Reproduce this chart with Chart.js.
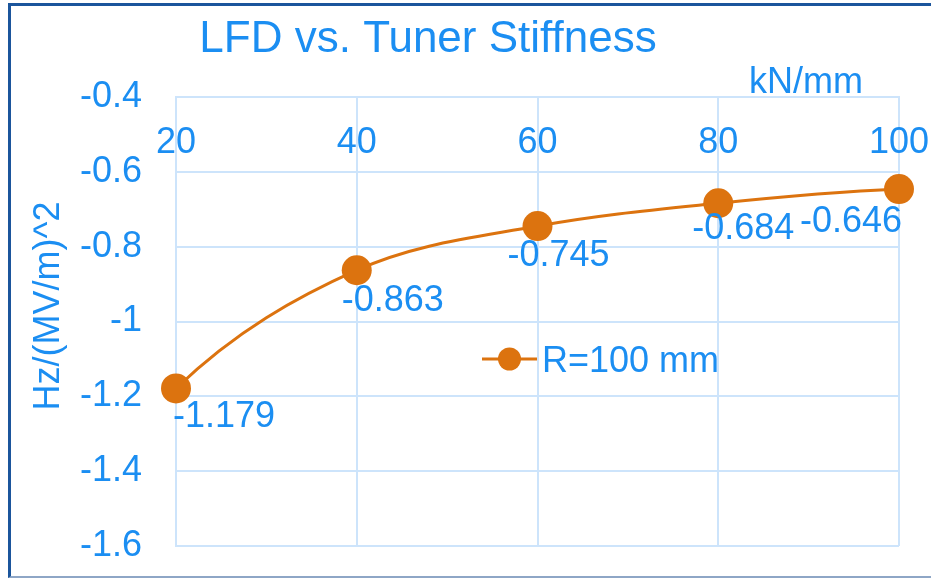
<!DOCTYPE html>
<html>
<head>
<meta charset="utf-8">
<title>LFD vs. Tuner Stiffness</title>
<script src="https://cdn.jsdelivr.net/npm/chart.js@4"></script>
<style>
  html, body { margin: 0; padding: 0; background: #fff; }
  #wrap { position: relative; width: 931px; height: 578px; overflow: hidden; }
  #frame {
    position: absolute; left: 8px; top: 3px; right: -10px; bottom: 0;
    border-left: 3px solid #1b559c; border-top: 3px solid #1b559c;
    border-bottom: 2px solid #8ea6c6; box-sizing: border-box;
  }
  #lfdChart { position: absolute; left: 0; top: 0; }
</style>
</head>
<body>
<div id="wrap">
  <div id="frame"></div>
  <canvas id="lfdChart" width="931" height="578"></canvas>
</div>
<script>
// chart data
const chartTitle = 'LFD vs. Tuner Stiffness';
const seriesName = 'R=100 mm';
const xTitle = 'kN/mm';
const yTitle = 'Hz/(MV/m)^2';

const stiffness = [20, 40, 60, 80, 100];
const lfd = [-1.179, -0.863, -0.745, -0.684, -0.646];

const xTicks = [20, 40, 60, 80, 100];
const xTickLabels = ['20', '40', '60', '80', '100'];
const yTicks = [-1.6, -1.4, -1.2, -1, -0.8, -0.6, -0.4];
const yTickLabels = ['-1.6', '-1.4', '-1.2', '-1', '-0.8', '-0.6', '-0.4'];

// styles
const blue = '#1b8ef2';
const orange = '#dc730f';
const gridColor = '#cde4fb';
const fontFamily = '"Liberation Sans", Arial, sans-serif';

// where each data label sits relative to its point (dx to centre, dy to baseline)
const labelOffsets = [[48, 39], [36, 41], [21, 40], [25, 36], [-48, 43]];

// spreadsheet-style smoothing: catmull-rom handles (1/6) inside,
// end tangents bent away from the chord like the original curve
const smoothPlugin = {
  id: 'smoothPlugin',
  beforeDatasetDraw(chart, args) {
    const meta = args.meta;
    meta.dataset.updateControlPoints(chart.chartArea, 'x');
    const pts = meta.data;
    const n = pts.length;
    const slope = (a, b) => (b.y - a.y) / (b.x - a.x);
    pts.forEach((p, i) => {
      const prev = pts[i - 1] || p;
      const next = pts[i + 1] || p;
      const dx = (next.x - prev.x) / 6;
      const dy = (next.y - prev.y) / 6;
      p.cp1x = p.x - dx; p.cp1y = p.y - dy;
      p.cp2x = p.x + dx; p.cp2y = p.y + dy;
    });
    if (n > 2) {
      const a = pts[0], b = pts[1], c = pts[2];
      const sc = slope(a, b);
      const s0 = sc + 1.5 * (sc - slope(a, c));
      const h = (b.x - a.x) / 3;
      a.cp2x = a.x + h; a.cp2y = a.y + s0 * h;

      const z = pts[n - 1], y = pts[n - 2], w = pts[n - 3];
      const se = slope(y, z);
      const s1 = se + 1.5 * (se - slope(w, z));
      const k = (z.x - y.x) / 3;
      z.cp1x = z.x - k; z.cp1y = z.y - s1 * k;
    }
    meta.dataset._path = undefined;
  }
};

// draws the titles, top tick labels, data labels and the legend
const textPlugin = {
  id: 'textPlugin',
  afterDraw(chart) {
    const ctx = chart.ctx;
    const area = chart.chartArea;
    const xs = chart.scales.x;
    ctx.save();
    ctx.fillStyle = blue;
    ctx.textBaseline = 'alphabetic';

    // chart title
    ctx.font = '44px ' + fontFamily;
    ctx.textAlign = 'center';
    ctx.fillText(chartTitle, 428, 52);

    ctx.font = '36px ' + fontFamily;

    // x tick labels, sitting just inside the top of the plot
    xTicks.forEach((v, i) => {
      ctx.fillText(xTickLabels[i], xs.getPixelForValue(v), area.top + 56);
    });

    // x axis title
    ctx.fillText(xTitle, 806, area.top - 4);

    // y axis title
    ctx.save();
    ctx.translate(59, 306);
    ctx.rotate(-Math.PI / 2);
    ctx.fillText(yTitle, 0, 0);
    ctx.restore();

    // data labels
    const meta = chart.getDatasetMeta(0);
    meta.data.forEach((pt, i) => {
      const off = labelOffsets[i];
      ctx.fillText(String(lfd[i]), pt.x + off[0], pt.y + off[1]);
    });

    // legend
    const lx = area.left + 306;
    const ly = area.top + 262;
    ctx.strokeStyle = orange;
    ctx.lineWidth = 3;
    ctx.beginPath();
    ctx.moveTo(lx, ly);
    ctx.lineTo(lx + 55, ly);
    ctx.stroke();
    ctx.fillStyle = orange;
    ctx.beginPath();
    ctx.arc(lx + 27.5, ly, 11.5, 0, Math.PI * 2);
    ctx.fill();
    ctx.fillStyle = blue;
    ctx.textAlign = 'left';
    ctx.fillText(seriesName, lx + 60, ly + 13);

    ctx.restore();
  }
};

const noPad = (s) => {
  s.paddingTop = 0; s.paddingBottom = 0;
  s.paddingLeft = 0; s.paddingRight = 0;
};

const ctx = document.getElementById('lfdChart').getContext('2d');
const lfdChart = new Chart(ctx, {
  type: 'line',
  data: {
    datasets: [{
      label: seriesName,
      data: stiffness.map((x, i) => ({ x: x, y: lfd[i] })),
      borderColor: orange,
      backgroundColor: orange,
      borderWidth: 3,
      pointRadius: 15,
      pointHoverRadius: 15,
      pointBorderWidth: 0,
      tension: 0.35,
      clip: false,
    }],
  },
  options: {
    responsive: false,
    animation: false,
    events: [],
    layout: { padding: { left: 0, top: 97, right: 32, bottom: 32 } },
    plugins: {
      legend: { display: false },
      title: { display: false },
      tooltip: { enabled: false },
    },
    scales: {
      x: {
        type: 'linear',
        position: 'top',
        min: 20,
        max: 100,
        afterBuildTicks: (s) => { s.ticks = xTicks.map(v => ({ value: v })); },
        afterFit: (s) => { noPad(s); s.height = 0; },
        ticks: { display: false },
        grid: { color: gridColor, lineWidth: 2, drawTicks: false },
        border: { color: gridColor, width: 2 },
      },
      y: {
        type: 'linear',
        min: -1.6,
        max: -0.4,
        afterBuildTicks: (s) => { s.ticks = yTicks.map(v => ({ value: v })); },
        afterFit: (s) => { noPad(s); s.width = 176; },
        ticks: {
          color: blue,
          font: { family: fontFamily, size: 36 },
          padding: 34,
          autoSkip: false,
          callback: (v, i) => yTickLabels[i],
        },
        grid: { color: gridColor, lineWidth: 2, drawTicks: false },
        border: { color: gridColor, width: 2 },
      },
    },
  },
  plugins: [smoothPlugin, textPlugin],
});
</script>
</body>
</html>
